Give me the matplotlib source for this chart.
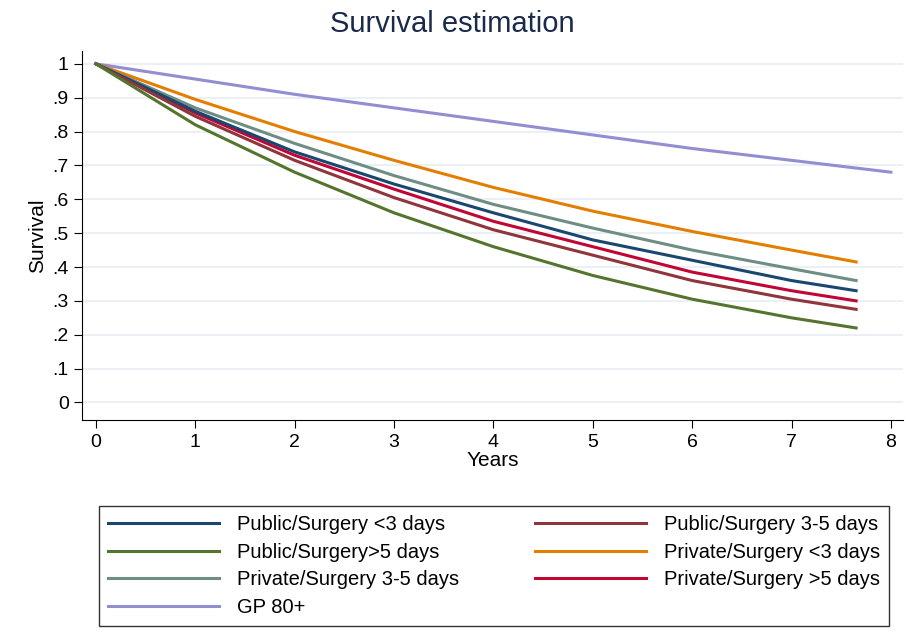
import matplotlib
matplotlib.use("Agg")
import matplotlib.pyplot as plt
plt.rcParams['font.family'] = ['Liberation Sans', 'DejaVu Sans']

years = [0, 1, 2, 3, 4, 5, 6, 7, 7.65]
gp_years = [0, 1, 2, 3, 4, 5, 6, 7, 8]
pub_lt3 = [1, 0.86, 0.74, 0.645, 0.56, 0.48, 0.42, 0.36, 0.33]
pub_35 = [1, 0.845, 0.715, 0.605, 0.51, 0.435, 0.36, 0.305, 0.275]
pub_gt5 = [1, 0.82, 0.68, 0.56, 0.46, 0.375, 0.305, 0.25, 0.22]
priv_lt3 = [1, 0.895, 0.80, 0.715, 0.635, 0.565, 0.505, 0.45, 0.415]
priv_35 = [1, 0.87, 0.765, 0.67, 0.585, 0.515, 0.45, 0.395, 0.36]
priv_gt5 = [1, 0.855, 0.73, 0.63, 0.535, 0.46, 0.385, 0.33, 0.30]
gp80 = [1, 0.955, 0.91, 0.87, 0.83, 0.79, 0.75, 0.715, 0.68]

series = [
    ("Public/Surgery <3 days", years, pub_lt3, "#1a476f"),
    ("Public/Surgery>5 days", years, pub_gt5, "#55752f"),
    ("Private/Surgery 3-5 days", years, priv_35, "#6e8e84"),
    ("GP 80+", gp_years, gp80, "#938dd2"),
    ("Public/Surgery 3-5 days", years, pub_35, "#90353b"),
    ("Private/Surgery <3 days", years, priv_lt3, "#e37e00"),
    ("Private/Surgery >5 days", years, priv_gt5, "#c10534"),
]
draw_order = [6, 3, 5, 2, 0, 4, 1]

fig = plt.figure(figsize=(9.05, 6.37), dpi=100)
ax = fig.add_axes([0.0906, 0.34, 0.907, 0.58])
handles = {}
for i in draw_order:
    lab, x, y, c = series[i]
    h, = ax.plot(x, y, color=c, lw=2.2, label=lab)
    handles[i] = h

ax.set_xlim(-0.14, 8.12)
ax.set_ylim(-0.053, 1.038)
yt = [0, .1, .2, .3, .4, .5, .6, .7, .8, .9, 1]
ax.set_yticks(yt)
ax.set_yticklabels(["0", ".1", ".2", ".3", ".4", ".5", ".6", ".7", ".8", ".9", "1"])
ax.set_xticks(range(9))
ax.tick_params(labelsize=14, length=6)
ax.yaxis.grid(True, color="#e6eef2", lw=1.2)
ax.set_axisbelow(True)
for s in ["top", "right"]:
    ax.spines[s].set_visible(False)
ax.set_xlabel("Years", fontsize=15, labelpad=0)
ax.set_ylabel("Survival", fontsize=15)
fig.suptitle("Survival estimation", fontsize=21, color="#1a2a4a", y=0.985)

fig.legend([handles[i] for i in range(7)], [series[i][0] for i in range(7)],
           ncol=2, loc="lower center", bbox_to_anchor=(0.546, 0.002, 0, 0),
           fontsize=14.5, frameon=True, fancybox=False, edgecolor="black",
           handlelength=5.5, columnspacing=3.8, labelspacing=0.42,
           borderpad=0.45, handletextpad=0.9)
fig.savefig("out.png", dpi=100, facecolor="white")
